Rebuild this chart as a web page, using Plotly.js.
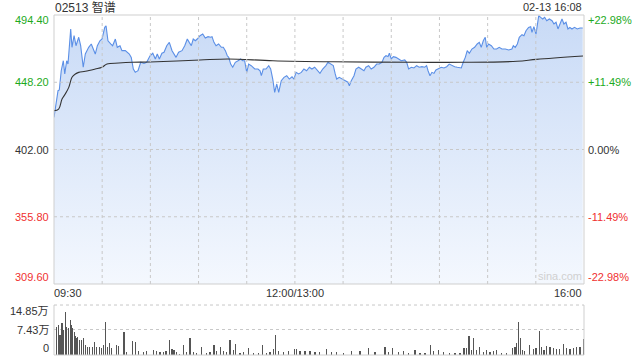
<!DOCTYPE html>
<html><head><meta charset="utf-8">
<script src="https://cdn.plot.ly/plotly-3.0.1.min.js"></script>
<style>html,body{margin:0;padding:0;background:#fff;}#chart{width:640px;height:360px;}</style>
</head><body><div id="chart"></div>
<script>
// minutes since 09:30 (trading minutes, lunch break removed)
const priceTimes = [0,2.5,3.3,4.5,5.8,6.7,7.9,8.7,9.2,10.4,11.2,12.5,13.7,15.4,16.6,18.2,19.5,21.6,23.2,24.5,25.7,27.0,28.6,29.9,31.6,32.4,33.6,35.3,36.5,38.2,39.4,41.1,42.3,44.4,46.9,48.1,49.4,50.6,52.3,54.0,56.0,
57.7,59.8,61.5,63.1,64.3,65.6,67.2,68.5,70.2,71.8,73.5,74.7,76.0,77.6,79.7,81.4,83.0,84.2,85.5,86.7,88.0,89.2,90.9,92.6,94.2,95.9,97.6,98.4,99.6,100.9,102.5,104.2,105.4,106.7,107.9,108.8,
110.0,111.3,112.9,114.6,116.2,117.5,118.7,120.0,121.2,122.8,125.0,127.0,128.3,129.1,130.3,132.0,133.7,134.9,136.2,137.4,138.7,139.9,141.5,143.2,144.9,146.5,148.2,149.4,150.7,152.3,154.0,155.6,157.3,159.0,160.6,162.3,163.9,165.6,
167.3,169.3,170.6,172.6,173.9,175.1,176.0,177.6,179.3,181.4,183.0,183.9,185.1,186.8,188.0,189.7,191.3,193.0,194.2,195.9,197.5,199.2,200.9,202.5,204.2,205.5,206.7,208.0,208.8,210.0,211.3,212.9,214.6,216.2,218.4,
219.6,220.8,222.5,224.1,225.8,227.4,229.1,230.8,232.0,232.9,234.1,235.3,236.6,237.8,239.5,241.1,242.8,244.5,246.1,247.8,249.5,251.1,253.6,254.8,256.1,257.3,258.6,260.2,261.9,263.5,264.8,266.0,267.3,268.5,269.4,270.6,272.3,273.9,
275.6,277.2,278.9,281.0,283.1,285.1,286.0,287.2,288.5,289.7,291.4,292.6,293.9,295.5,296.8,297.6,298.8,300.1,300.9,301.8,303.0,304.3,305.5,306.8,308.4,310.1,311.3,312.6,313.8,315.0,316.3,317.5,318.8,320.0,321.2,322.5,324.1,325.8,327.5,329.2];
const prices = [424.1,442.4,442.9,456.1,463.0,453.9,463.0,460.7,467.6,484.8,472.2,480.2,473.3,479.1,473.3,458.5,467.6,472.2,474.5,471.0,467.6,473.3,476.7,477.9,485.9,487.0,476.7,474.5,473.3,477.9,472.2,473.3,469.9,469.9,467.6,465.3,457.3,455.0,456.1,461.9,461.2,
461.9,466.4,468.1,464.2,467.6,464.2,468.1,468.8,473.3,475.6,469.9,467.6,465.3,468.8,469.9,473.3,477.9,475.6,473.3,477.9,476.7,477.9,480.2,481.3,478.6,479.5,479.1,479.5,475.6,473.3,474.5,472.2,472.2,469.9,466.4,465.3,
460.7,458.5,461.9,463.0,464.2,463.0,463.0,455.0,460.7,459.6,457.3,457.3,456.1,452.7,457.3,457.3,459.6,457.3,450.4,441.3,447.0,441.3,449.3,451.6,452.7,450.4,452.0,450.4,455.0,453.9,455.0,457.3,456.1,458.5,457.3,458.5,456.1,454.3,
457.3,459.6,461.9,460.7,459.6,453.9,450.4,451.6,450.4,449.3,448.2,445.8,449.3,452.7,457.3,458.5,457.3,456.1,458.5,459.6,457.3,458.5,460.7,460.7,461.9,465.3,466.4,465.8,468.1,464.2,465.8,465.3,464.2,463.0,463.5,
461.9,457.3,458.5,458.0,459.6,458.5,458.9,458.5,459.6,456.1,452.7,455.0,454.3,456.6,457.3,458.5,458.0,458.9,460.7,459.6,458.9,458.5,458.0,461.9,465.3,469.9,468.1,471.0,472.2,474.5,475.6,472.2,476.7,479.1,472.2,474.5,473.3,471.0,
471.0,472.2,471.0,471.0,470.4,471.0,473.3,472.2,474.5,479.1,480.9,480.2,483.6,485.9,486.4,482.5,486.4,481.3,487.0,493.9,492.8,491.7,492.8,490.5,491.7,490.5,488.2,489.4,484.8,488.2,491.7,488.2,489.4,484.8,485.9,484.8,485.9,484.8,485.5,485.5];
const avgTimes = [0,2.9,5.0,7.0,9.2,11.2,13.3,15.4,19.5,25.7,29.9,33.0,40.3,48.6,59.8,90.9,108.3,136.3,173.7,227.9,255.3,288.3,300.5,329.4];
const avgPrices = [428.7,429.8,436.7,440.1,444.7,451.6,453.9,455.0,455.7,457.3,458.5,460.7,461.4,461.9,462.1,463.5,464.2,463.0,462.3,461.9,461.9,462.6,463.9,466.2];
const volTimes = [1.7,2.9,3.7,5.0,5.8,7.0,7.9,9.1,10.0,10.8,11.6,12.5,13.3,14.1,14.9,15.8,17.0,18.3,19.5,20.7,22.0,23.7,25.3,26.6,28.2,29.5,30.7,31.9,33.2,34.4,35.7,39.0,40.3,43.6,45.3,49.0,50.6,52.5,55.6,57.7,61.8,63.9,66.0,68.1,69.7,71.8,73.5,74.7,76.4,78.4,80.5,82.6,84.7,86.7,88.8,92.0,95.1,97.1,99.6,101.3,103.4,105.4,107.5,109.6,111.6,112.9,115.8,117.9,121.0,124.1,127.2,129.7,132.4,134.5,136.5,137.8,139.7,142.8,145.9,150.0,151.1,153.2,156.3,159.4,162.5,165.5,169.8,173.0,176.0,180.1,185.3,190.5,195.7,199.9,206.1,208.2,210.6,214.4,217.5,220.6,224.8,227.9,231.0,234.3,236.2,239.3,242.4,246.5,249.7,252.8,255.3,256.9,258.4,260.0,261.1,263.2,265.2,267.3,269.4,271.5,273.5,275.6,278.7,281.8,285.6,287.0,288.1,289.3,290.6,291.8,293.2,295.9,298.4,300.1,302.2,303.6,305.1,306.7,308.8,310.9,312.9,315.0,317.1,319.2,321.3,323.3,325.4,327.5,330.0];
const volumes = [8.4,8.9,5.9,9.4,7.4,12.9,8.4,7.9,10.4,8.9,7.9,6.9,5.6,5.0,5.4,4.5,4.5,5.0,3.0,2.5,2.3,2.5,4.0,2.5,2.5,2.0,3.0,9.9,2.5,3.5,2.0,3.0,2.7,6.9,1.0,4.2,4.0,1.3,1.0,1.3,1.5,1.3,1.0,1.0,1.3,4.5,1.7,1.5,1.0,0.3,3.0,1.0,5.0,1.0,0.7,2.5,0.7,1.0,3.0,1.3,2.3,1.3,1.0,4.5,1.5,3.3,0.7,1.0,2.0,0.7,0.7,3.0,0.5,1.0,1.7,5.9,1.3,1.0,1.3,1.7,1.8,1.3,1.3,1.3,1.0,1.0,1.7,1.0,1.0,0.7,1.3,1.3,2.0,1.0,2.3,1.0,2.0,1.0,1.3,0.7,1.5,0.7,0.7,3.0,1.3,1.5,1.0,0.7,0.7,0.5,2.0,2.0,5.6,1.5,5.1,1.5,2.3,1.0,1.5,1.0,1.3,1.5,0.7,0.5,2.0,2.5,3.5,9.9,5.0,1.5,1.3,3.0,1.7,2.0,7.2,2.5,1.5,2.7,2.3,2.0,1.7,1.7,3.3,2.0,1.7,2.0,2.5,2.3,4.7];
const priceTicks = [494.40, 448.20, 402.00, 355.80, 309.60];
const priceTickLabels = ['494.40','448.20','402.00','355.80','309.60'];
const pctTickLabels = ['+22.98%','+11.49%','0.00%','-11.49%','-22.98%'];
const timeTicks = [0, 150, 330];
const timeTickLabels = ['09:30','12:00/13:00','16:00'];
const volTicks = [14.85, 7.43, 0];
const volTickLabels = ['14.85万','7.43万','0'];
const titleText = '02513 智谱';
const stampText = '02-13 16:08';

const GREEN = '#1daa1d', RED = '#f03030', GRAY = '#333333';
const FONT = 'Arial, "Liberation Sans", "Noto Sans CJK SC", sans-serif';
const labelColors = [GREEN, GREEN, GRAY, RED, RED];
const edgeShift = [-5, 0, 0, 0, 7];

const traces = [
  {x: priceTimes, y: prices, type: 'scatter', mode: 'lines', xaxis: 'x', yaxis: 'y',
   line: {color: '#5b8fe6', width: 1.1}, fill: 'tozeroy',
   fillgradient: {type: 'vertical', start: 309.6, stop: 494.4,
     colorscale: [[0, 'rgb(244,248,254)'], [1, 'rgb(200,218,246)']]},
   hoverinfo: 'skip'},
  {x: avgTimes, y: avgPrices, type: 'scatter', mode: 'lines', xaxis: 'x', yaxis: 'y',
   line: {color: '#333', width: 1.1, shape: 'spline'}, hoverinfo: 'skip'},
  {x: volTimes, y: volumes, type: 'bar', xaxis: 'x2', yaxis: 'y2',
   marker: {color: '#555', line: {width: 0}}, width: 0.7, hoverinfo: 'skip'}
];

const grid30 = [30,60,90,120,150,180,210,240,270,300];
const annotations = [];
priceTicks.forEach((v, i) => {
  annotations.push({x: 0, xref: 'paper', y: v, yref: 'y', text: priceTickLabels[i], showarrow: false,
    xanchor: 'right', yanchor: 'middle', xshift: -3, yshift: edgeShift[i], font: {family: FONT, size: 11, color: labelColors[i]}});
  annotations.push({x: 1, xref: 'paper', y: v, yref: 'y', text: pctTickLabels[i], showarrow: false,
    xanchor: 'left', yanchor: 'middle', xshift: 2, yshift: edgeShift[i], font: {family: FONT, size: 11, color: labelColors[i]}});
});
const tAnch = ['left', 'center', 'right'];
timeTicks.forEach((t, i) => {
  annotations.push({x: t, xref: 'x', y: 0.183, yref: 'paper', text: timeTickLabels[i], showarrow: false,
    xanchor: tAnch[i], yanchor: 'middle', xshift: i === 0 ? -2 : 0, font: {family: FONT, size: 11, color: GRAY}});
});
const vShift = [-6, 0, 7];
volTicks.forEach((v, i) => {
  annotations.push({x: 0, xref: 'paper', y: v, yref: 'y2', text: volTickLabels[i], showarrow: false,
    xanchor: 'right', yanchor: 'middle', xshift: -3, yshift: vShift[i], font: {family: FONT, size: 11, color: GRAY}});
});
annotations.push({x: 0, xref: 'paper', y: 1.023, yref: 'paper', text: titleText, showarrow: false,
  xanchor: 'left', yanchor: 'middle', xshift: -1, font: {family: FONT, size: 12, color: GRAY}});
annotations.push({x: 1, xref: 'paper', y: 1.023, yref: 'paper', text: stampText, showarrow: false,
  xanchor: 'right', yanchor: 'middle', font: {family: FONT, size: 11, color: GRAY}});
annotations.push({x: 0.955, xref: 'paper', y: 309.6, yref: 'y', text: 'sina.com', showarrow: false,
  xanchor: 'center', yanchor: 'bottom', yshift: 0, font: {family: FONT, size: 11, color: '#d0d0d0'}});

const mainBottom = 0.2088, volTop = 0.147;
const GRID = '#c8c8c8';
const shapes = [];
grid30.forEach(t => shapes.push({type: 'line', layer: 'above', xref: 'x', yref: 'paper', x0: t, x1: t, y0: mainBottom, y1: 1,
  line: {color: GRID, width: 1, dash: 'dot'}}));
[448.2, 402.0, 355.8].forEach(v => shapes.push({type: 'line', layer: 'above', xref: 'paper', yref: 'y', x0: 0, x1: 1, y0: v, y1: v,
  line: {color: GRID, width: 1, dash: 'dot'}}));
shapes.push(
  {type: 'rect', xref: 'paper', yref: 'paper', x0: 0, x1: 1, y0: mainBottom, y1: 1, line: {color: '#cfcfcf', width: 1}},
  {type: 'line', xref: 'paper', yref: 'paper', x0: 0, x1: 0, y0: 0, y1: volTop, line: {color: '#cfcfcf', width: 1}},
  {type: 'line', xref: 'paper', yref: 'paper', x0: 1, x1: 1, y0: 0, y1: volTop, line: {color: '#cfcfcf', width: 1}},
  {type: 'line', xref: 'paper', yref: 'paper', x0: 0, x1: 1, y0: 0, y1: 0, line: {color: '#cfcfcf', width: 1}},
  {type: 'line', xref: 'paper', yref: 'paper', x0: 0, x1: 1, y0: volTop, y1: volTop, line: {color: GRID, width: 1, dash: 'dot'}}
);

const layout = {
  width: 640, height: 360, margin: {l: 54, r: 56, t: 15, b: 5},
  paper_bgcolor: '#fff', plot_bgcolor: 'rgba(0,0,0,0)', showlegend: false,
  xaxis: {domain: [0, 1], range: [0, 330], anchor: 'y', showticklabels: false, ticks: '',
    showgrid: false, zeroline: false, showline: false},
  yaxis: {domain: [mainBottom, 1], range: [309.6, 494.4], anchor: 'x', showticklabels: false, ticks: '',
    showgrid: false, zeroline: false, showline: false},
  xaxis2: {domain: [0, 1], range: [0, 330], anchor: 'y2', showticklabels: false, ticks: '', showgrid: false, zeroline: false, showline: false},
  yaxis2: {domain: [0, volTop], range: [0, 14.85], anchor: 'x2', tickvals: [7.43], showticklabels: false, ticks: '',
    showgrid: true, gridcolor: GRID, griddash: 'dot', zeroline: false, showline: false},
  bargap: 0, annotations: annotations, shapes: shapes
};
Plotly.newPlot('chart', traces, layout, {staticPlot: true, displayModeBar: false});
</script></body></html>
